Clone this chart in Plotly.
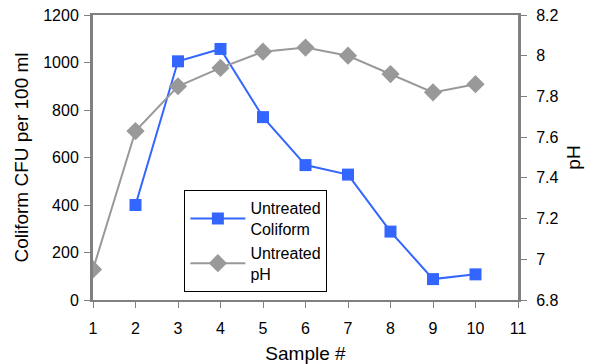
import plotly.graph_objects as go

samples = [1, 2, 3, 4, 5, 6, 7, 8, 9, 10]
coliform = [None, 400, 1005, 1057, 770, 568, 528, 288, 88, 108]
ph = [6.95, 7.63, 7.85, 7.94, 8.02, 8.04, 8.00, 7.91, 7.82, 7.86]

x_ticks = list(range(1, 12))
left_ticks = [0, 200, 400, 600, 800, 1000, 1200]
right_ticks = [6.8, 7, 7.2, 7.4, 7.6, 7.8, 8, 8.2]
right_labels = ["6.8", "7", "7.2", "7.4", "7.6", "7.8", "8", "8.2"]

blue = "#3366FF"
gray = "#999999"
axc = "#808080"
font = "Liberation Sans, Arial, sans-serif"

fig = go.Figure()
fig.add_trace(go.Scatter(
    x=samples, y=coliform, name="Untreated<br>Coliform", mode="lines+markers",
    line=dict(color=blue, width=2), marker=dict(symbol="square", size=12, color=blue),
    connectgaps=False))
fig.add_trace(go.Scatter(
    x=samples, y=ph, name="Untreated<br>pH", mode="lines+markers", yaxis="y2",
    line=dict(color=gray, width=2), marker=dict(symbol="diamond", size=14, color=gray)))

fig.update_layout(
    width=590, height=364,
    margin=dict(l=93, r=72, t=15, b=64),
    paper_bgcolor="white", plot_bgcolor="white",
    font=dict(family=font, size=16, color="black"),
    showlegend=True,
    legend=dict(x=0.215, y=0.385, xanchor="left", yanchor="top",
                bordercolor="black", borderwidth=1, bgcolor="white",
                font=dict(size=16), itemwidth=55, tracegroupgap=0),
    xaxis=dict(range=[1, 11], tickvals=x_ticks, showgrid=False, zeroline=False,
               showline=True, linecolor=axc, linewidth=2, ticks="outside",
               ticklen=6, tickcolor=axc, mirror=True, ticklabelstandoff=7,
               automargin=False,
               title=dict(text="Sample #", standoff=10)),
    yaxis=dict(range=[0, 1200], tickvals=left_ticks, showgrid=False, zeroline=False,
               showline=True, linecolor=axc, linewidth=3, ticks="outside",
               ticklen=6, tickcolor=axc, ticklabelstandoff=2, automargin=False,
               title=dict(text="Coliform CFU per 100 ml", standoff=10)),
    yaxis2=dict(range=[6.8, 8.2], tickvals=right_ticks, ticktext=right_labels,
                overlaying="y", side="right", showgrid=False, zeroline=False,
                showline=True, linecolor=axc, linewidth=3, ticks="outside",
                ticklen=6, tickcolor=axc, ticklabelstandoff=6, automargin=False,
                title=dict(text="pH", standoff=10)),
)

fig.write_html("out.html")
